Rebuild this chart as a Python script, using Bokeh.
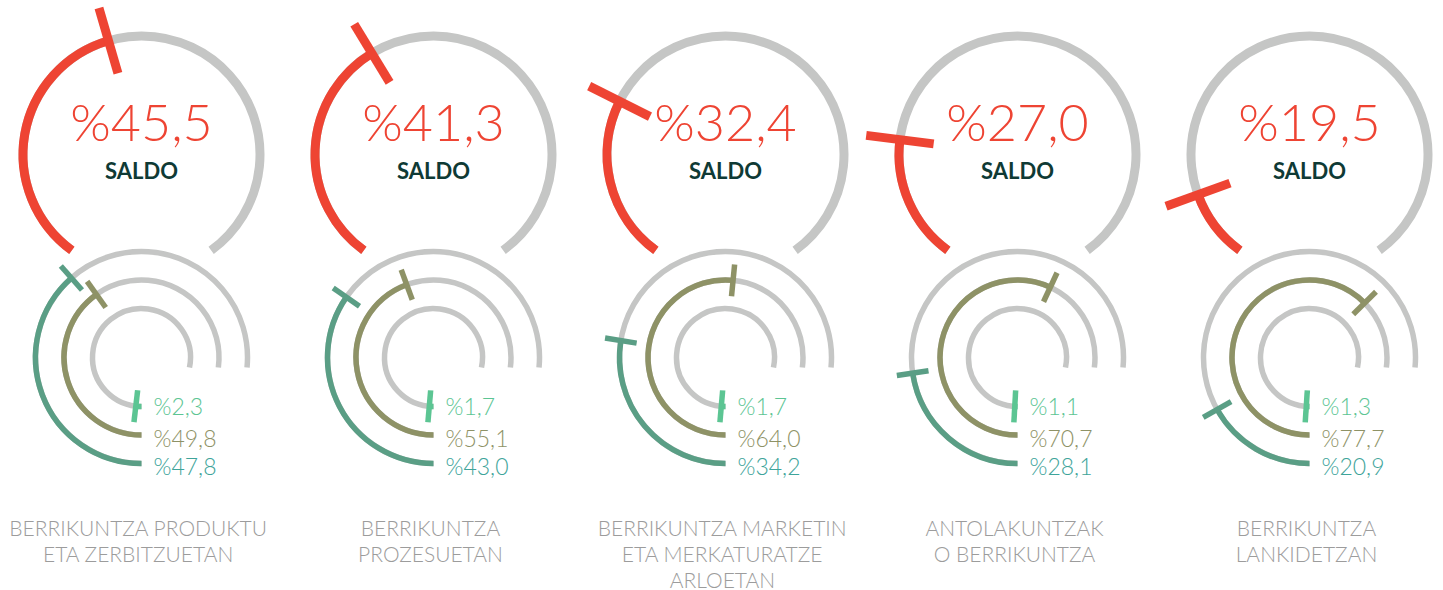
import math
from bokeh.plotting import figure
from bokeh.models import Range1d, ColumnDataSource
from bokeh.core.properties import value
from bokeh.embed import file_html
from bokeh.resources import INLINE

# ---------------- data ----------------
categories = [
    "BERRIKUNTZA PRODUKTU\nETA ZERBITZUETAN",
    "BERRIKUNTZA\nPROZESUETAN",
    "BERRIKUNTZA MARKETIN\nETA MERKATURATZE\nARLOETAN",
    "ANTOLAKUNTZAK\nO BERRIKUNTZA",
    "BERRIKUNTZA\nLANKIDETZAN",
]
saldo = [45.5, 41.3, 32.4, 27.0, 19.5]
inner_vals = [2.3, 1.7, 1.7, 1.1, 1.3]        # light green
middle_vals = [49.8, 55.1, 64.0, 70.7, 77.7]  # olive
outer_vals = [47.8, 43.0, 34.2, 28.1, 20.9]   # teal
saldo_label = "SALDO"

# ---------------- style / layout ----------------
RED = "#ee4433"
GRAY = "#c5c6c5"
TEAL = "#5a9e85"
TEAL_TXT = "#3ea49a"
OLIVE = "#8e9266"
LGREEN = "#5cc593"
DARK = "#0f3a35"
CAT_GRAY = "#9c9c9c"
NUM_FONT = value("'Lato Light', Lato")
BOLD_FONT = value("Lato")

W, H = 1443, 590
X0, STEP = 141, 292
BIG_CY, BIG_R, BIG_LW = 154, 118.5, 9
BIG_GAP = 36           # degrees left open at the bottom of the big ring
BIG_DEG = 3.6          # degrees per percentage point (big ring)
BIG_TICK = 34
SM_CY = 357
SM_R = [106, 77.5, 49]
SM_LBL_OFF = [2, 2.5, -1]
SM_LW = 5.5
SM_DEG = 2.9           # degrees per percentage point (small rings)
SM_TICK = 16
SM_DROP = 10           # gray small rings run slightly past 3 o'clock


def phi(theta):
    """clockwise degrees from 6 o'clock -> bokeh radians (y up)."""
    return math.radians(-90 - theta)


def pt(cx, cy, r, theta):
    a = phi(theta)
    return cx + r * math.cos(a), cy + r * math.sin(a)


p = figure(width=W, height=H, output_backend="svg", toolbar_location=None,
           x_range=Range1d(0, W), y_range=Range1d(-H, 0),
           min_border=0, outline_line_color=None)
p.axis.visible = False
p.grid.visible = False
p.background_fill_color = "white"
p.border_fill_color = "white"

arcs = dict(x=[], y=[], r=[], s=[], e=[], c=[], w=[])
segs = dict(x0=[], y0=[], x1=[], y1=[], c=[], w=[])


def add_arc(cx, cy, r, t1, t2, color, lw):
    arcs["x"].append(cx); arcs["y"].append(cy); arcs["r"].append(r)
    arcs["s"].append(phi(t2)); arcs["e"].append(phi(t1))
    arcs["c"].append(color); arcs["w"].append(lw)


def add_tick(cx, cy, r, t, half, color, lw):
    xa, ya = pt(cx, cy, r - half, t)
    xb, yb = pt(cx, cy, r + half, t)
    segs["x0"].append(xa); segs["y0"].append(ya)
    segs["x1"].append(xb); segs["y1"].append(yb)
    segs["c"].append(color); segs["w"].append(lw)


def fmt(v):
    return "%" + f"{v:.1f}".replace(".", ",")


big_txt = dict(x=[], y=[], t=[])
sal_txt = dict(x=[], y=[], t=[])
sm_txt = dict(x=[], y=[], t=[], c=[])
cat_txt = dict(x=[], y=[], t=[])

for i, cat in enumerate(categories):
    cx = X0 + i * STEP
    bcy = -BIG_CY
    scy = -SM_CY
    # big ring
    add_arc(cx, bcy, BIG_R, BIG_GAP, 360 - BIG_GAP, GRAY, BIG_LW)
    tv = saldo[i] * BIG_DEG
    add_arc(cx, bcy, BIG_R, BIG_GAP, tv, RED, BIG_LW)
    add_tick(cx, bcy, BIG_R, tv, BIG_TICK, RED, BIG_LW)
    big_txt["x"].append(cx); big_txt["y"].append(bcy + 34); big_txt["t"].append(fmt(saldo[i]))
    sal_txt["x"].append(cx); sal_txt["y"].append(bcy - 16); sal_txt["t"].append(saldo_label)
    # small rings
    vals = [outer_vals[i], middle_vals[i], inner_vals[i]]
    cols = [TEAL, OLIVE, LGREEN]
    tcols = [TEAL_TXT, OLIVE, LGREEN]
    for r, off, v, c, tc in zip(SM_R, SM_LBL_OFF, vals, cols, tcols):
        end = 270 + math.degrees(math.asin(SM_DROP / r))
        add_arc(cx, scy, r, 0, end, GRAY, SM_LW)
        tv = v * SM_DEG
        add_arc(cx, scy, r, 0, tv, c, SM_LW)
        add_tick(cx, scy, r, tv, SM_TICK, c, SM_LW)
        sm_txt["x"].append(cx + 12); sm_txt["y"].append(scy - r - off)
        sm_txt["t"].append(fmt(v)); sm_txt["c"].append(tc)
    cat_txt["x"].append(cx - 3); cat_txt["y"].append(-514); cat_txt["t"].append(cat)

p.arc(x="x", y="y", radius="r", start_angle="s", end_angle="e", line_color="c",
      line_width="w", line_cap="butt", source=ColumnDataSource(arcs))
p.segment(x0="x0", y0="y0", x1="x1", y1="y1", line_color="c", line_width="w",
          line_cap="butt", source=ColumnDataSource(segs))

p.text(x="x", y="y", text="t", source=ColumnDataSource(big_txt), text_color=RED,
       text_font=NUM_FONT, text_font_size="52px", text_align="center",
       text_baseline="middle")
p.text(x="x", y="y", text="t", source=ColumnDataSource(sal_txt), text_color=DARK,
       text_font=BOLD_FONT, text_font_style="bold", text_font_size="22px",
       text_align="center", text_baseline="middle")
p.text(x="x", y="y", text="t", source=ColumnDataSource(sm_txt), text_color="c",
       text_font=NUM_FONT, text_font_size="23px", text_align="left",
       text_baseline="middle")
p.text(x="x", y="y", text="t", source=ColumnDataSource(cat_txt), text_color=CAT_GRAY,
       text_font=NUM_FONT, text_font_size="21px", text_align="center",
       text_baseline="top", text_line_height=1.04)

open("out.html", "w").write(file_html(p, INLINE))
